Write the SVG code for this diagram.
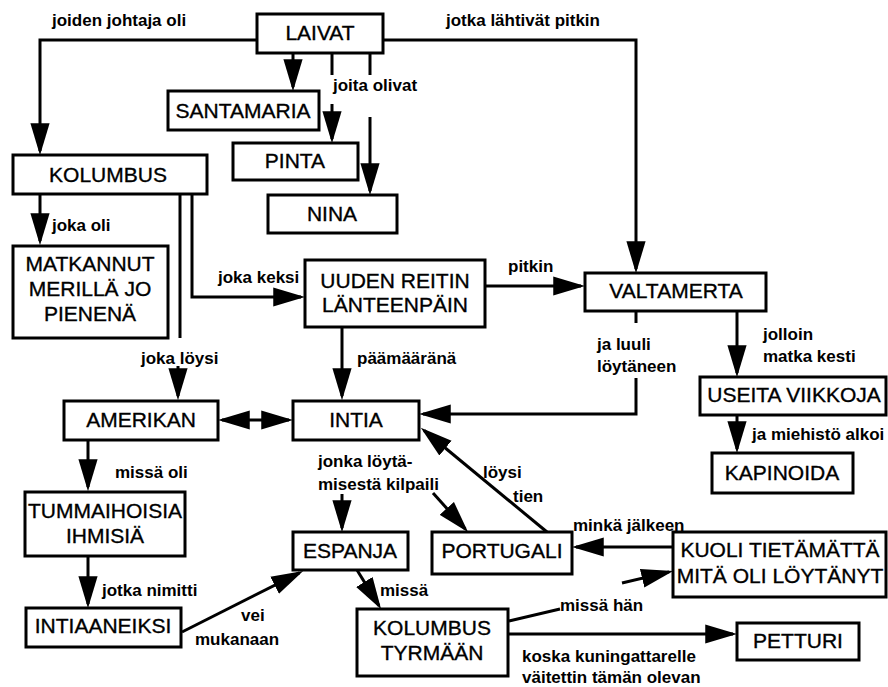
<svg xmlns="http://www.w3.org/2000/svg" width="888" height="687" viewBox="0 0 888 687">
  <defs>
    <marker id="ah" markerUnits="userSpaceOnUse" markerWidth="32" markerHeight="20" viewBox="0 0 30 18" refX="26" refY="9" orient="auto-start-reverse">
      <path d="M0,0 L30,9 L0,18 Z" fill="#000"/>
    </marker>
    <style>
      .box rect { fill: #fff; stroke: #000; stroke-width: 3; }
      .box text { font-family: "Liberation Sans", Arial, Helvetica, sans-serif; font-size: 21px; text-anchor: middle; fill: #000; stroke: #000; stroke-width: 0.35; }
      .lbl { font-family: "Liberation Sans", Arial, Helvetica, sans-serif; font-size: 17px; font-weight: bold; fill: #000; }
      .c { fill: none; stroke: #000; stroke-width: 3; }
      .a { marker-end: url(#ah); }
      .aa { marker-start: url(#ah); marker-end: url(#ah); }
    </style>
  </defs>
  <rect width="888" height="687" fill="#fff"/>

  <!-- connectors -->
  <g id="connectors">
    <path class="c a" d="M257,40 H40 V151"/>
    <path class="c a" d="M383,40 H636 V269"/>
    <path class="c a" d="M293,53 V87"/>
    <path class="c" d="M332,53 V75"/>
    <path class="c a" d="M332,104 V139"/>
    <path class="c" d="M370,53 V75"/>
    <path class="c a" d="M370,117 V191"/>
    <path class="c a" d="M40,194 V241"/>
    <path class="c a" d="M192,194 V297 H301"/>
    <path class="c" d="M180,194 V338"/>
    <path class="c a" d="M178,366 V396"/>
    <path class="c a" d="M485,286 H581"/>
    <path class="c a" d="M342,327 V396"/>
    <path class="c" d="M636,311 V323"/>
    <path class="c a" d="M636,378 V414 H423"/>
    <path class="c a" d="M737,311 V373"/>
    <path class="c a" d="M737,415 V449"/>
    <path class="c aa" d="M222,420 H289"/>
    <path class="c a" d="M88,440 V487"/>
    <path class="c a" d="M88,556 V604"/>
    <path class="c a" d="M182,632 L299.4,572.8"/>
    <path class="c a" d="M342,494 V528"/>
    <path class="c a" d="M433,493 L465.3,529"/>
    <path class="c a" d="M547,532 L424.1,430.5"/>
    <path class="c a" d="M673,547 H576"/>
    <path class="c" d="M509,621 L560,609"/>
    <path class="c a" d="M622,583 L669.1,571.9"/>
    <path class="c a" d="M508,634 H733"/>
    <path class="c a" d="M357,570 L378.9,605.6"/>
  </g>

  <!-- connector labels -->
  <g id="labels">
    <text class="lbl" x="52" y="26">joiden johtaja oli</text>
    <text class="lbl" x="446" y="26">jotka lähtivät pitkin</text>
    <text class="lbl" x="333" y="91">joita olivat</text>
    <text class="lbl" x="52" y="231">joka oli</text>
    <text class="lbl" x="218" y="283">joka keksi</text>
    <text class="lbl" x="508" y="272">pitkin</text>
    <text class="lbl" x="141" y="364">joka löysi</text>
    <text class="lbl" x="357" y="364">päämääränä</text>
    <text class="lbl" x="597" y="350">ja luuli</text>
    <text class="lbl" x="597" y="372">löytäneen</text>
    <text class="lbl" x="763" y="340">jolloin</text>
    <text class="lbl" x="763" y="362">matka kesti</text>
    <text class="lbl" x="752" y="440">ja miehistö alkoi</text>
    <text class="lbl" x="115" y="478">missä oli</text>
    <text class="lbl" x="318" y="467">jonka löytä-</text>
    <text class="lbl" x="318" y="490">misestä kilpaili</text>
    <text class="lbl" x="483" y="478">löysi</text>
    <text class="lbl" x="513" y="502">tien</text>
    <text class="lbl" x="573" y="531">minkä jälkeen</text>
    <text class="lbl" x="102" y="596">jotka nimitti</text>
    <text class="lbl" x="241" y="621">vei</text>
    <text class="lbl" x="195" y="645">mukanaan</text>
    <text class="lbl" x="380" y="596">missä</text>
    <text class="lbl" x="560" y="611">missä hän</text>
    <text class="lbl" x="522" y="662">koska kuningattarelle</text>
    <text class="lbl" x="522" y="683">väitettin tämän olevan</text>
  </g>

  <!-- nodes -->
  <g id="laivat" class="box">
    <rect x="257" y="14" width="126" height="39"/>
    <text x="320" y="40">LAIVAT</text>
  </g>
  <g id="santamaria" class="box">
    <rect x="168" y="91" width="151" height="39"/>
    <text x="243" y="118">SANTAMARIA</text>
  </g>
  <g id="pinta" class="box">
    <rect x="233" y="143" width="125" height="37"/>
    <text x="295" y="168">PINTA</text>
  </g>
  <g id="nina" class="box">
    <rect x="268" y="195" width="129" height="38"/>
    <text x="332" y="221">NINA</text>
  </g>
  <g id="kolumbus" class="box">
    <rect x="13" y="155" width="194" height="39"/>
    <text x="108" y="182">KOLUMBUS</text>
  </g>
  <g id="matkannut" class="box">
    <rect x="13" y="246" width="155" height="92"/>
    <text x="90" y="271">MATKANNUT</text>
    <text x="90" y="296">MERILLÄ JO</text>
    <text x="90" y="321">PIENENÄ</text>
  </g>
  <g id="uuden-reitin" class="box">
    <rect x="305" y="260" width="180" height="67"/>
    <text x="395" y="288">UUDEN REITIN</text>
    <text x="395" y="312">LÄNTEENPÄIN</text>
  </g>
  <g id="valtamerta" class="box">
    <rect x="585" y="273" width="181" height="38"/>
    <text x="676" y="298">VALTAMERTA</text>
  </g>
  <g id="amerikan" class="box">
    <rect x="64" y="401" width="154" height="39"/>
    <text x="141" y="427">AMERIKAN</text>
  </g>
  <g id="intia" class="box">
    <rect x="293" y="401" width="126" height="39"/>
    <text x="356" y="427">INTIA</text>
  </g>
  <g id="useita-viikkoja" class="box">
    <rect x="700" y="377" width="186" height="38"/>
    <text x="794" y="402">USEITA VIIKKOJA</text>
  </g>
  <g id="kapinoida" class="box">
    <rect x="712" y="453" width="141" height="40"/>
    <text x="782" y="480">KAPINOIDA</text>
  </g>
  <g id="tummaihoisia" class="box">
    <rect x="25" y="492" width="160" height="64"/>
    <text x="105" y="518">TUMMAIHOISIA</text>
    <text x="105" y="543">IHMISIÄ</text>
  </g>
  <g id="intiaaneiksi" class="box">
    <rect x="26" y="608" width="155" height="39"/>
    <text x="103" y="633">INTIAANEIKSI</text>
  </g>
  <g id="espanja" class="box">
    <rect x="293" y="532" width="115" height="38"/>
    <text x="350" y="558">ESPANJA</text>
  </g>
  <g id="portugali" class="box">
    <rect x="432" y="532" width="140" height="42"/>
    <text x="502" y="558">PORTUGALI</text>
  </g>
  <g id="kuoli" class="box">
    <rect x="673" y="532" width="213" height="65"/>
    <text x="780" y="557">KUOLI TIETÄMÄTTÄ</text>
    <text x="780" y="583">MITÄ OLI LÖYTÄNYT</text>
  </g>
  <g id="kolumbus-tyrmaan" class="box">
    <rect x="357" y="609" width="151" height="67"/>
    <text x="432" y="635">KOLUMBUS</text>
    <text x="432" y="660">TYRMÄÄN</text>
  </g>
  <g id="petturi" class="box">
    <rect x="737" y="623" width="122" height="37"/>
    <text x="798" y="648">PETTURI</text>
  </g>
</svg>
